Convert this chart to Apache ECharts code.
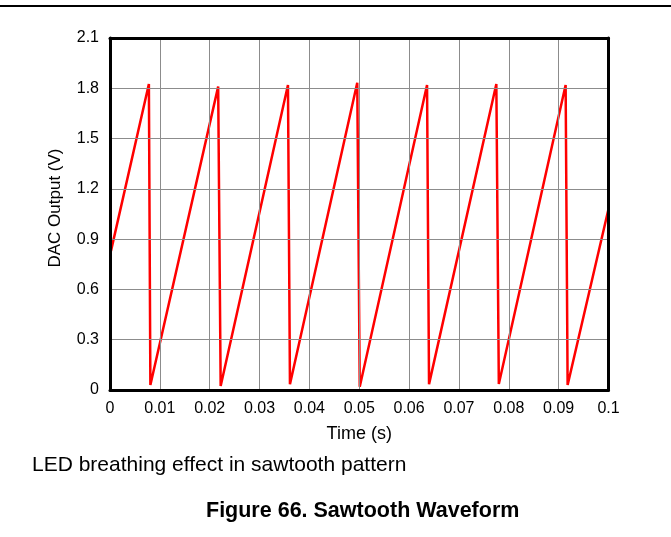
<!DOCTYPE html>
<html>
<head>
<meta charset="utf-8">
<script src="https://cdn.jsdelivr.net/npm/echarts@6/dist/echarts.min.js"></script>
<style>
html,body{margin:0;padding:0;background:#fff;}
#c{width:671px;height:537px;}
</style>
</head>
<body>
<div id="c"></div>
<script>
// Time (s) and DAC output (V)
const timeS = [0.0002, 0.0078, 0.0081, 0.0217, 0.0222, 0.0357, 0.0361, 0.0496, 0.0501, 0.0636, 0.0640, 0.0775, 0.0780, 0.0914, 0.0918, 0.1];
const dacV  = [0.83, 1.826, 0.03, 1.81, 0.024, 1.82, 0.034, 1.833, 0.02, 1.82, 0.035, 1.825, 0.036, 1.82, 0.03, 1.08];
const xTicks = ['0','0.01','0.02','0.03','0.04','0.05','0.06','0.07','0.08','0.09','0.1'];
const yTicks = ['0','0.3','0.6','0.9','1.2','1.5','1.8','2.1'];
const xName = 'Time (s)';
const yName = 'DAC Output (V)';
const caption = 'LED breathing effect in sawtooth pattern';
const figTitle = 'Figure 66. Sawtooth Waveform';

const font = '"Liberation Sans", Arial, sans-serif';
const frameLine = {show: true, onZero: false, lineStyle: {color: '#000', width: 3}};
const chart = echarts.init(document.getElementById('c'));
chart.setOption({
  animation: false,
  backgroundColor: '#fff',
  grid: {left: 110, right: 62.5, top: 38, bottom: 147},
  xAxis: [{
    type: 'value', min: 0, max: 0.1, interval: 0.01, position: 'bottom',
    name: xName, nameLocation: 'middle', nameGap: 35,
    nameTextStyle: {fontFamily: font, fontSize: 18, color: '#000'},
    axisLine: frameLine, axisTick: {show: false}, z: 5,
    axisLabel: {fontFamily: font, fontSize: 16, color: '#000', margin: 11,
      formatter: (v) => xTicks[Math.round(v / 0.01)]},
    splitLine: {show: true, lineStyle: {color: '#8c8c8c', width: 1}}
  }, {
    type: 'value', min: 0, max: 0.1, interval: 0.01, position: 'top',
    axisLine: frameLine, axisTick: {show: false}, axisLabel: {show: false}, splitLine: {show: false}, z: 5
  }],
  yAxis: [{
    type: 'value', min: 0, max: 2.1, interval: 0.3, position: 'left',
    axisLine: frameLine, axisTick: {show: false}, z: 5,
    axisLabel: {fontFamily: font, fontSize: 16, color: '#000', margin: 11,
      formatter: (v) => yTicks[Math.round(v / 0.3)]},
    splitLine: {show: true, lineStyle: {color: '#8c8c8c', width: 1}}
  }, {
    type: 'value', min: 0, max: 2.1, interval: 0.3, position: 'right',
    axisLine: frameLine, axisTick: {show: false}, axisLabel: {show: false}, splitLine: {show: false}, z: 5
  }],
  series: [{
    type: 'line',
    xAxisIndex: 0, yAxisIndex: 0,
    data: timeS.map((t, i) => [t, dacV[i]]),
    showSymbol: false,
    lineStyle: {color: '#ff0000', width: 2.5},
    z: 1
  }],
  graphic: [
    {type: 'line', shape: {x1: 0, y1: 6, x2: 671, y2: 6}, style: {stroke: '#000', lineWidth: 2}},
    {type: 'text', x: 55, y: 208, rotation: Math.PI / 2,
      style: {text: yName, fontFamily: font, fontSize: 17, fill: '#000', align: 'center', verticalAlign: 'middle'}},
    {type: 'text', left: 32, top: 455, style: {text: caption, fontFamily: font, fontSize: 21, fill: '#000'}},
    {type: 'text', left: 206, top: 500, style: {text: figTitle, fontFamily: font, fontSize: 21.5, fontWeight: 'bold', fill: '#000'}}
  ]
});
</script>
</body>
</html>
